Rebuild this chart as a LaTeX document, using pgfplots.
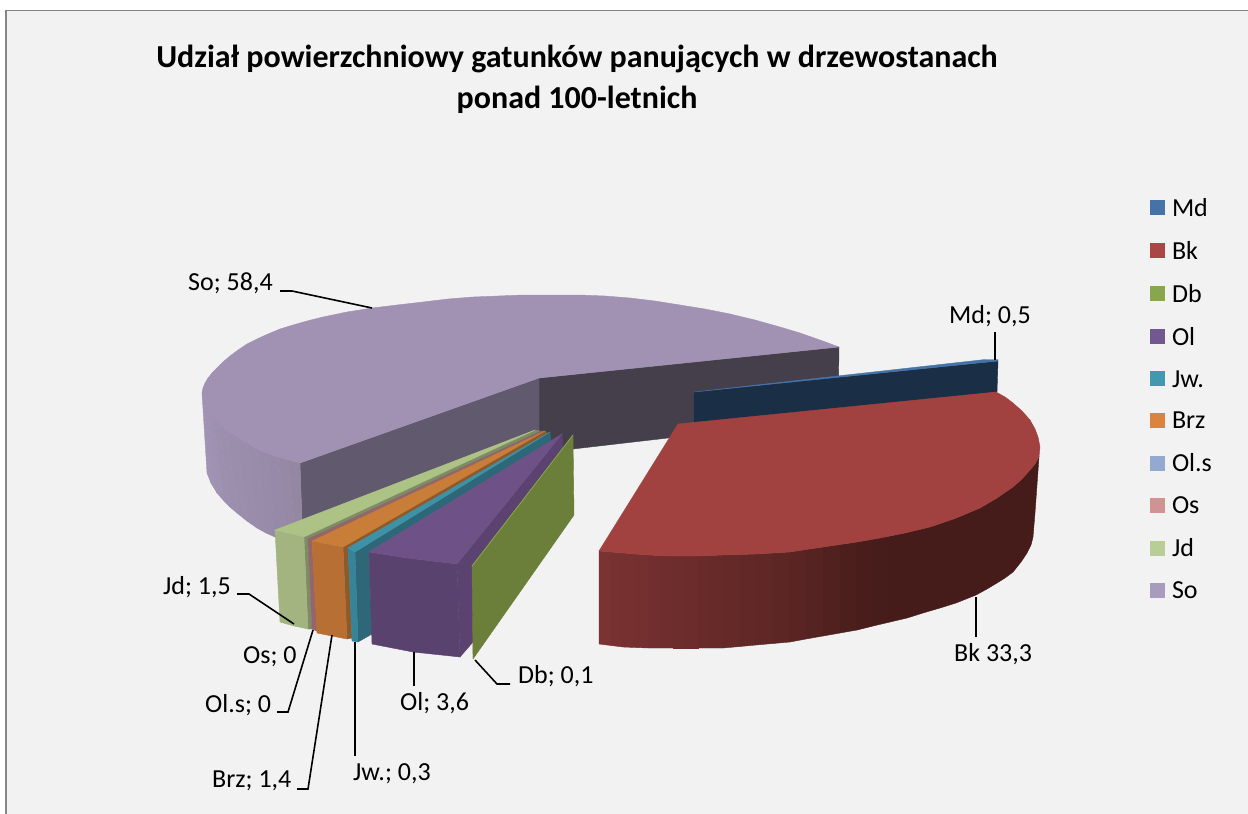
\documentclass[border=0pt]{standalone}
\usepackage{fontspec}
\setmainfont{Carlito}
\usepackage{pgfplots}
\pgfplotsset{compat=1.18}
\definecolor{bgc}{HTML}{F2F2F2}
\definecolor{frm}{HTML}{858585}
\definecolor{soT}{HTML}{A191B3}
\definecolor{soL}{HTML}{A093B3}
\definecolor{soR}{HTML}{9487A4}
\definecolor{soI}{HTML}{61596E}
\definecolor{soJ}{HTML}{453F4C}
\definecolor{mdD}{HTML}{1A2E45}
\definecolor{mdT}{HTML}{4573A8}
\definecolor{bkT}{HTML}{A14240}
\definecolor{bkL}{HTML}{7A3232}
\definecolor{bkR}{HTML}{451C1A}
\definecolor{dbW}{HTML}{6B7F3A}
\definecolor{dbT}{HTML}{8AA64C}
\definecolor{olT}{HTML}{6E5287}
\definecolor{olF}{HTML}{5A426F}
\definecolor{olS}{HTML}{5C4270}
\definecolor{jwT}{HTML}{3D92A8}
\definecolor{jwW}{HTML}{2E6878}
\definecolor{brT}{HTML}{C87D38}
\definecolor{brF}{HTML}{B86F33}
\definecolor{brS}{HTML}{8F5A2A}
\definecolor{osF}{HTML}{94666A}
\definecolor{jdT}{HTML}{ADC285}
\definecolor{jdF}{HTML}{A3B481}
\definecolor{jdS}{HTML}{7D8C64}
\definecolor{lgMd}{HTML}{4572A7}
\definecolor{lgBk}{HTML}{AA4643}
\definecolor{lgDb}{HTML}{89A54E}
\definecolor{lgOl}{HTML}{71588F}
\definecolor{lgJw}{HTML}{4198AF}
\definecolor{lgBr}{HTML}{DB843D}
\definecolor{lgOs}{HTML}{93A9CF}
\definecolor{lgOp}{HTML}{D19392}
\definecolor{lgJd}{HTML}{B9CD96}
\definecolor{lgSo}{HTML}{A99BBD}
\newcommand\poly[2]{\addplot[forget plot,fill=#1,draw=#1,line width=.4pt] coordinates {#2} -- cycle;}
\newcommand\leader[1]{\addplot[forget plot,black,line width=1.6pt] coordinates {#1};}
\newcommand\lab[3]{\node[anchor=west,inner sep=0pt,font=\fontsize{26}{30}\selectfont] at (axis cs:#1,#2) {#3};}
\begin{document}
\begin{tikzpicture}
\begin{axis}[
  scale only axis, width=1248pt, height=814pt,
  xmin=0, xmax=1248, ymin=0, ymax=814, y dir=reverse,
  hide axis, clip=true,
  legend style={at={(axis cs:1150,198)},anchor=north west,draw=none,fill=none,
    inner sep=0pt,outer sep=0pt,
    font=\fontsize{26}{26}\selectfont,row sep=23.55pt,
    nodes={inner sep=0pt,anchor=base west}},
  legend cell align=left,
  legend image code/.code={\fill[#1,draw=none] (0pt,1pt) rectangle (15pt,16pt);\path[draw=none,fill=none] (0pt,0pt) rectangle (22pt,1pt);},
]
% background
\poly{white}{(0,0)(1248,0)(1248,814)(0,814)}
\poly{bgc}{(6,10)(1248,10)(1248,814)(6,814)}
\addplot[forget plot,frm,line width=2pt] coordinates {(6,814)(6,10)};
\addplot[forget plot,frm,line width=1pt] coordinates {(6,10)(1248,10)};
% So: inner walls
\poly{soJ}{(539,378)(839,347)(838,418)(668,438)(573,449)(539,453)}
\poly{soI}{(300,463)(539,378)(539,455)(303,549)}
% So: outer wall strips
\poly{soL}{(202,393)(204,401)(211,483)(207,473)}
\poly{soL!92!soR}{(204,401)(208,410)(217,493)(211,483)}
\poly{soL!84!soR}{(208,410)(213,417)(224,501)(217,493)}
\poly{soL!76!soR}{(213,417)(219,423)(230,507)(224,501)}
\poly{soL!68!soR}{(219,423)(227,430)(237,513)(230,507)}
\poly{soL!60!soR}{(227,430)(237,437)(247,521)(237,513)}
\poly{soL!52!soR}{(237,437)(247,443)(257,528)(247,521)}
\poly{soL!44!soR}{(247,443)(257,449)(266,533)(257,528)}
\poly{soL!36!soR}{(257,449)(267,453)(275,537)(266,533)}
\poly{soL!26!soR}{(267,453)(278,457)(288,543)(275,537)}
\poly{soL!14!soR}{(278,457)(289,460)(296,546)(288,543)}
\poly{soR}{(289,460)(300,463)(303,549)(296,546)}
% So: top
\poly{soT}{(539,378)(300,463)(289,460)(278,457)(267,453)(257,449)(247,443)(237,437)(227,430)(219,423)(213,417)(208,410)(204,401)(202,393)(203,388)(205,383)(208,378)(212,373)(217,368)(223,362)(230,356)(238,350)(247,344)(257,339)(268,334)(280,329)(293,325)(307,321)(323,317)(347,312)(372,308)(397,305)(423,302)(448,299)(473,297)(498,296)(523,295)(552,295)(580,295)(605,296)(630,298)(655,301)(680,305)(705,309)(730,314)(755,320)(780,327)(800,333)(820,340)(839,347)}
% Md
\poly{mdD}{(694,392)(998,361)(997,392)(694,424)}
\poly{mdT}{(694,392)(985,359.5)(998,359.5)(998,361)}
% Bk wall strips
\poly{bkL}{(599,551)(611,552)(611,645.5)(599,644)}
\poly{bkL!96!bkR}{(611,552)(623,553)(623,647)(611,645.5)}
\poly{bkL!92!bkR}{(623,553)(635,554)(635,647.5)(623,647)}
\poly{bkL!88!bkR}{(635,554)(648,555)(648,648)(635,647.5)}
\poly{bkL!84!bkR}{(648,555)(660,555.5)(660,648)(648,648)}
\poly{bkL!80!bkR}{(660,555.5)(673,556)(673,648)(660,648)}
\poly{bkL!76!bkR}{(673,556)(685,556)(685,648)(673,648)}
\poly{bkL!72!bkR}{(685,556)(698,556)(698,648)(685,648)}
\poly{bkL!68!bkR}{(698,556)(710,555.5)(710,648)(698,648)}
\poly{bkL!64!bkR}{(710,555.5)(723,555)(723,648)(710,648)}
\poly{bkL!60!bkR}{(723,555)(740,554.5)(740,646.5)(723,648)}
\poly{bkL!55!bkR}{(740,554.5)(756,554)(756,645)(740,646.5)}
\poly{bkL!50!bkR}{(756,554)(773,553)(773,643.5)(756,645)}
\poly{bkL!44!bkR}{(773,553)(790,552)(790,642)(773,643.5)}
\poly{bkL!38!bkR}{(790,552)(806,549.5)(806,639)(790,642)}
\poly{bkL!30!bkR}{(806,549.5)(823,547)(823,636)(806,639)}
\poly{bkL!22!bkR}{(823,547)(840,544.5)(840,633)(823,636)}
\poly{bkL!14!bkR}{(840,544.5)(857,542)(857,630)(840,633)}
\poly{bkL!6!bkR}{(857,542)(873,539)(873,626)(857,630)}
\poly{bkL!3!bkR}{(873,539)(890,536)(890,622)(873,626)}
\poly{bkR}{(890,536)(905,533)(930,527)(955,518.5)(980,508)(997,498)(1013,487)(1022,479)(1030,470)(1035,464)(1039,457)(1037,485)(1035,513)(1034,525)(1033,537)(1031,545)(1027,553)(1021,562)(1013,572)(1005,578)(997,583)(987,589)(976,595)(956,603)(940,608)(923,613)(907,618)(890,622)}
% Bk top
\poly{bkT}{(678,424)(996,392)(1005,397)(1013,403)(1022,411)(1030,420)(1035,429)(1038,437)(1040,447)(1039,457)(1035,464)(1030,470)(1022,479)(1013,487)(997,498)(980,508)(955,518.5)(930,527)(905,533)(880,538)(857,542)(840,544.5)(823,547)(806,549.5)(790,552)(773,553)(756,554)(723,555)(698,556)(673,556)(648,555)(623,553)(599,551)}
% Jd
\poly{jdS}{(535,430)(540,431)(308,539)(312,629)(308,629)(304,537)}
\poly{jdF}{(275,530)(304,537)(308,629)(294,626)(280,622)}
\poly{jdT}{(535,430)(275,530)(304,537)}
% Os
\poly{osF}{(542,431)(545,431)(312,541)(317,631)(312,629)(308,539)}
% Brz
\poly{brS}{(545,431)(548,434)(348,548)(352,638)(347,639)(343,547)}
\poly{brF}{(312,541)(343,547)(347,639)(317,633)}
\poly{brT}{(545,431)(312,541)(343,547)}
% Jw
\poly{jwW}{(550,432)(551,441)(369,552)(372,634)(358,642)(355,552)}
\poly{jwT!90!black}{(348,548)(355,552)(358,642)(352,641)}
\poly{jwT}{(550,432)(348,548)(355,552)}
% Ol
\poly{olS}{(562,434)(563,450)(473,642)(460,657)(457,564)}
\poly{olF}{(369,552)(407,558)(457,564)(460,657)(413,652)(372,644)}
\poly{olT}{(562,434)(369,552)(407,558)(457,564)}
% Db
\poly{dbW}{(573,435)(574,515)(473,659)(472,566)}
\addplot[forget plot,dbT,line width=.8pt] coordinates {(573,435)(472,566)};
% Leader lines
\leader{(280,291)(292,291)(372,308)}
\leader{(995,332)(995,360)}
\leader{(976,597)(976,637)}
\leader{(475,660)(497,684)(510,684)}
\leader{(414,652)(414,686)}
\leader{(355,642)(355,756)}
\leader{(332,635)(308,789)(297,789)}
\leader{(313,630)(288,712)(277,712)}
\leader{(237,594)(249,594)(294,624)}
% Legend
\addlegendimage{lgMd}\addlegendentry{Md}
\addlegendimage{lgBk}\addlegendentry{Bk}
\addlegendimage{lgDb}\addlegendentry{Db}
\addlegendimage{lgOl}\addlegendentry{Ol}
\addlegendimage{lgJw}\addlegendentry{Jw.}
\addlegendimage{lgBr}\addlegendentry{Brz}
\addlegendimage{lgOs}\addlegendentry{Ol.s}
\addlegendimage{lgOp}\addlegendentry{Os}
\addlegendimage{lgJd}\addlegendentry{Jd}
\addlegendimage{lgSo}\addlegendentry{So}
% Labels
\lab{188}{283}{So; 58,4}
\lab{949}{316}{Md; 0,5}
\lab{954}{654}{Bk 33,3}
\lab{518}{676}{Db; 0,1}
\lab{400}{703}{Ol; 3,6}
\lab{353}{774}{Jw.; 0,3}
\lab{212}{781}{Brz; 1,4}
\lab{205}{705}{Ol.s; 0}
\lab{243}{657}{Os; 0}
\lab{163}{587}{Jd; 1,5}
\node[align=center,inner sep=0pt,font=\fontsize{32}{41}\selectfont\bfseries] at (axis cs:577,79.5) {Udział powierzchniowy gatunków panujących w drzewostanach\\ponad 100-letnich};
\end{axis}
\end{tikzpicture}
\end{document}
